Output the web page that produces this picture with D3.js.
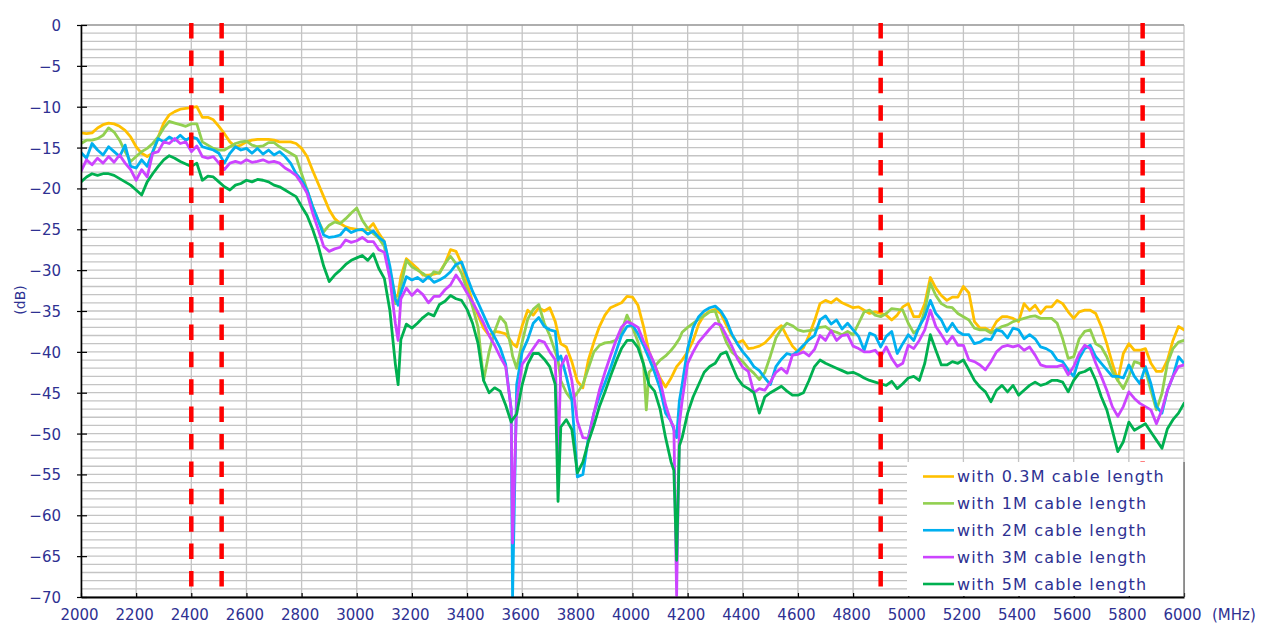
<!DOCTYPE html>
<html>
<head>
<meta charset="utf-8">
<script src="https://cdn.jsdelivr.net/npm/d3@7"></script>
<style>
  html, body { margin: 0; padding: 0; background: #ffffff; }
  svg { display: block; font-family: "DejaVu Sans", sans-serif; }
</style>
</head>
<body>
<svg id="chart" width="1270" height="640"></svg>
<script>
// Frequency points (MHz), one row per 200 MHz block; extra points sit on the narrow notches.
const freqs = [
  2000,2020,2040,2060,2080,2100,2120,2140,2160,2180,
  2200,2220,2240,2260,2280,2300,2320,2340,2360,2380,
  2400,2420,2440,2460,2480,2500,2520,2540,2560,2580,
  2600,2620,2640,2660,2680,2700,2720,2740,2760,2780,
  2800,2820,2840,2860,2880,2900,2920,2940,2960,2980,
  3000,3020,3040,3060,3080,3100,3120,3140,3150,3160,3180,
  3200,3220,3240,3260,3280,3300,3320,3340,3360,3380,
  3400,3420,3440,3460,3480,3500,3520,3540,3560,3565,3580,
  3600,3620,3640,3660,3680,3700,3720,3730,3740,3760,3780,
  3800,3820,3840,3860,3880,3900,3920,3940,3960,3980,
  4000,4020,4040,4050,4060,4080,4100,4120,4140,4150,4160,4170,4180,
  4200,4220,4240,4260,4280,4300,4320,4340,4360,4380,
  4400,4420,4440,4460,4480,4500,4520,4540,4560,4580,
  4600,4620,4640,4660,4680,4700,4720,4740,4760,4780,
  4800,4820,4840,4860,4880,4900,4920,4940,4960,4980,
  5000,5020,5040,5060,5080,5100,5120,5140,5160,5180,
  5200,5220,5240,5260,5280,5300,5320,5340,5360,5380,
  5400,5420,5440,5460,5480,5500,5520,5540,5560,5580,
  5600,5620,5640,5660,5680,5700,5720,5740,5760,5780,
  5800,5820,5840,5860,5880,5900,5920,5940,5960,5980,
  6000
];

// Measured response (dB) for each cable length
const cable03m = [
  -13.2,-13.3,-13.2,-12.6,-12.2,-12.0,-12.1,-12.4,-12.9,-13.7,
  -14.9,-15.7,-16.1,-15.7,-13.7,-12.0,-11.0,-10.6,-10.3,-10.2,
  -10.1,-10.0,-11.3,-11.3,-11.6,-12.4,-13.3,-14.3,-14.9,-14.7,
  -14.3,-14.1,-14.0,-14.0,-14.0,-14.1,-14.3,-14.3,-14.3,-14.5,
  -15.1,-16.1,-17.8,-19.4,-21.0,-22.6,-23.7,-24.3,-24.7,-24.9,
  -25.0,-25.1,-25.0,-24.3,-25.5,-26.5,-30.0,-33.3,-33.0,-30.8,-28.6,
  -29.2,-29.8,-30.6,-30.6,-30.5,-30.3,-29.2,-27.5,-27.7,-29.2,
  -31.6,-33.9,-35.5,-37.1,-38.0,-37.5,-37.6,-37.8,-38.7,-39.0,-39.4,
  -36.8,-34.9,-35.5,-34.6,-35.0,-34.6,-36.3,-37.8,-39.0,-39.4,-41.2,
  -43.6,-44.4,-41.0,-38.8,-36.9,-35.5,-34.6,-34.3,-34.0,-33.2,
  -33.3,-34.3,-36.9,-38.5,-40.0,-41.6,-43.2,-44.3,-43.2,-42.5,-41.8,-41.4,-41.0,
  -40.0,-38.6,-36.6,-35.5,-35.0,-34.8,-35.3,-36.7,-38.0,-38.9,
  -38.6,-39.6,-39.5,-39.3,-38.9,-38.2,-37.3,-36.8,-38.1,-39.3,
  -40.0,-39.5,-38.0,-36.2,-34.1,-33.7,-34.0,-33.5,-34.0,-34.3,
  -34.6,-34.5,-34.9,-35.3,-35.1,-35.3,-35.5,-36.1,-35.5,-34.5,
  -34.1,-35.7,-35.7,-34.1,-30.9,-32.2,-33.1,-33.7,-33.3,-33.3,
  -32.0,-32.8,-36.3,-37.1,-37.1,-37.5,-36.3,-35.7,-35.7,-35.9,
  -36.3,-34.1,-34.9,-34.3,-35.3,-34.5,-34.5,-33.7,-34.1,-35.1,
  -35.9,-35.1,-34.9,-34.9,-35.3,-36.9,-39.0,-41.4,-43.5,-40.2,
  -39.0,-39.8,-39.8,-39.6,-41.4,-42.4,-42.4,-41.0,-38.6,-36.9,
  -37.3
];

const cable1m = [
  -14.5,-14.1,-14.1,-13.9,-13.5,-12.6,-13.1,-14.1,-15.5,-16.7,
  -16.1,-15.5,-15.1,-14.5,-13.7,-12.6,-11.8,-12.0,-12.2,-12.4,
  -12.1,-12.1,-14.3,-14.7,-15.1,-15.3,-15.3,-14.9,-14.5,-14.3,
  -14.2,-14.7,-14.9,-14.8,-14.4,-14.4,-14.9,-15.3,-15.7,-16.1,
  -18.2,-20.2,-22.2,-23.9,-25.3,-24.5,-24.1,-24.3,-23.7,-23.0,
  -22.4,-23.9,-24.9,-25.5,-26.1,-27.1,-30.4,-34.1,-33.8,-32.0,-28.8,
  -29.6,-30.0,-30.4,-31.0,-30.2,-30.4,-29.2,-28.3,-29.2,-30.4,
  -32.4,-34.5,-37.0,-43.5,-40.0,-37.5,-35.7,-36.5,-39.5,-40.5,-42.0,
  -38.8,-36.0,-34.8,-34.2,-36.5,-38.0,-40.0,-41.0,-43.5,-45.0,-45.9,
  -45.0,-44.0,-42.0,-40.0,-39.2,-38.9,-38.8,-38.6,-37.5,-35.5,
  -37.0,-38.8,-41.5,-47.1,-42.5,-41.8,-41.0,-40.5,-39.8,-39.4,-38.9,-38.4,-37.6,
  -37.0,-36.5,-36.0,-35.6,-35.1,-35.0,-37.0,-38.8,-40.0,-40.6,
  -41.2,-42.0,-42.6,-43.4,-42.5,-40.5,-38.3,-37.2,-36.5,-36.8,
  -37.3,-37.5,-37.4,-37.3,-37.0,-36.9,-37.4,-37.6,-37.9,-37.5,
  -37.9,-36.5,-35.1,-34.9,-35.5,-35.7,-35.3,-34.7,-34.8,-34.9,
  -36.5,-37.7,-37.1,-34.9,-31.6,-33.1,-34.1,-34.5,-34.6,-35.3,
  -35.7,-36.1,-37.1,-37.3,-37.3,-37.7,-37.3,-36.9,-36.7,-36.3,
  -36.1,-35.9,-35.7,-35.6,-35.9,-35.9,-35.9,-36.5,-38.4,-40.8,
  -40.6,-38.4,-37.5,-37.3,-39.0,-39.4,-40.6,-42.4,-43.5,-44.5,
  -43.0,-41.2,-41.4,-42.2,-44.7,-47.1,-45.1,-41.4,-39.6,-38.8,
  -38.6
];

const cable2m = [
  -15.6,-16.3,-14.5,-15.3,-15.9,-14.9,-15.5,-16.1,-14.7,-17.3,
  -17.5,-16.5,-17.3,-15.5,-13.9,-14.3,-13.7,-14.1,-13.5,-14.1,
  -13.7,-13.9,-14.9,-15.1,-15.3,-15.7,-16.9,-15.7,-14.9,-15.3,
  -15.1,-15.7,-15.1,-15.8,-15.3,-15.9,-15.5,-16.1,-16.9,-18.2,
  -19.0,-20.2,-22.2,-23.9,-25.7,-26.0,-25.9,-25.7,-24.9,-25.4,
  -25.1,-25.0,-25.6,-25.2,-26.0,-26.5,-29.5,-33.5,-34.3,-32.8,-30.8,
  -31.2,-30.9,-31.4,-30.8,-31.5,-31.2,-30.8,-30.2,-29.3,-29.0,
  -30.8,-32.6,-34.0,-35.5,-37.0,-38.2,-39.5,-41.5,-47.0,-70.0,-44.0,
  -40.0,-38.5,-36.5,-35.8,-36.9,-37.3,-37.5,-41.0,-40.5,-43.0,-45.8,
  -55.3,-55.0,-50.5,-47.5,-45.5,-43.8,-42.0,-40.0,-38.0,-36.9,
  -36.7,-37.8,-39.2,-40.0,-40.8,-42.5,-44.5,-47.5,-48.5,-49.5,-50.5,-46.0,-44.0,
  -39.6,-37.0,-35.7,-35.0,-34.6,-34.4,-35.0,-36.1,-37.8,-39.0,
  -40.0,-40.8,-41.8,-42.3,-43.2,-44.0,-41.8,-40.9,-40.2,-40.4,
  -39.9,-39.2,-38.5,-38.0,-36.1,-35.6,-36.6,-36.1,-37.2,-36.5,
  -37.3,-38.1,-39.8,-37.7,-38.0,-39.4,-38.1,-37.5,-40.2,-39.0,
  -37.9,-38.6,-36.9,-35.7,-33.7,-35.3,-36.1,-37.5,-36.5,-37.5,
  -37.9,-37.9,-39.0,-38.8,-38.4,-38.5,-37.3,-37.5,-38.3,-37.1,
  -37.3,-38.4,-37.9,-38.4,-39.4,-39.6,-40.0,-41.0,-41.2,-42.2,
  -43.0,-40.8,-39.6,-39.2,-40.6,-41.4,-42.2,-43.0,-43.0,-43.2,
  -41.6,-43.0,-43.9,-41.8,-43.9,-46.7,-47.5,-44.7,-43.0,-40.6,
  -41.4
];

const cable3m = [
  -17.9,-16.5,-17.1,-16.3,-16.9,-16.1,-16.8,-15.9,-16.9,-17.7,
  -19.0,-17.7,-18.6,-15.7,-15.5,-14.3,-14.5,-13.9,-14.5,-14.3,
  -15.5,-14.8,-16.1,-16.3,-16.1,-16.9,-17.7,-16.9,-16.7,-16.9,
  -16.5,-16.8,-16.7,-16.5,-16.8,-16.7,-16.9,-17.5,-17.9,-18.4,
  -19.4,-20.6,-23.0,-25.0,-27.1,-27.7,-27.4,-27.2,-26.3,-26.6,
  -26.4,-26.0,-26.5,-26.5,-27.5,-27.8,-31.0,-36.5,-38.6,-33.5,-32.2,
  -33.1,-32.4,-33.0,-34.0,-33.2,-33.2,-32.4,-31.8,-30.6,-31.6,
  -32.8,-33.9,-35.2,-36.5,-38.0,-39.2,-40.6,-41.8,-47.0,-63.4,-46.0,
  -41.5,-40.6,-39.6,-38.6,-38.8,-40.0,-41.0,-53.4,-41.8,-40.5,-43.5,
  -48.5,-50.5,-50.6,-47.5,-44.7,-42.5,-40.5,-38.6,-37.0,-36.3,
  -36.6,-37.0,-38.7,-39.4,-40.0,-41.5,-43.5,-46.5,-48.6,-49.2,-69.8,-48.8,-46.0,
  -41.4,-40.0,-38.8,-38.0,-37.2,-36.5,-36.7,-38.0,-39.3,-40.8,
  -41.9,-42.4,-45.0,-44.5,-44.7,-43.7,-42.5,-42.0,-42.6,-40.4,
  -40.3,-40.0,-40.5,-39.7,-38.0,-38.6,-37.4,-38.6,-38.0,-37.9,
  -39.3,-39.6,-40.0,-40.0,-39.8,-40.6,-39.4,-40.8,-41.8,-41.4,
  -39.2,-39.6,-38.6,-37.3,-34.9,-36.9,-37.9,-39.0,-38.1,-39.2,
  -39.2,-41.0,-41.2,-41.6,-42.2,-41.2,-40.0,-39.4,-39.2,-39.4,
  -39.2,-39.8,-39.4,-40.4,-41.6,-41.8,-41.8,-41.8,-41.6,-42.8,
  -41.8,-40.2,-39.2,-39.6,-41.4,-43.0,-44.7,-46.7,-47.9,-46.7,
  -44.9,-45.7,-46.3,-46.7,-47.1,-48.8,-47.1,-44.7,-43.0,-41.8,
  -41.6
];

const cable5m = [
  -19.2,-18.6,-18.2,-18.4,-18.2,-18.2,-18.4,-18.8,-19.2,-19.6,
  -20.2,-20.8,-19.2,-18.2,-17.3,-16.5,-16.0,-16.3,-16.7,-17.0,
  -17.3,-16.9,-19.0,-18.5,-18.6,-19.2,-19.8,-20.2,-19.6,-19.4,
  -19.0,-19.2,-18.9,-19.0,-19.2,-19.6,-19.8,-20.2,-20.6,-21.0,
  -22.2,-23.3,-25.0,-27.0,-29.5,-31.4,-30.6,-30.0,-29.3,-28.8,
  -28.5,-28.2,-28.8,-28.0,-29.8,-31.0,-34.9,-41.5,-44.0,-38.5,-36.6,
  -37.1,-36.5,-35.8,-35.3,-35.6,-34.2,-33.8,-33.1,-33.5,-33.7,
  -34.8,-36.5,-39.0,-43.5,-45.0,-44.4,-44.8,-46.5,-48.6,-48.3,-47.6,
  -44.0,-41.5,-40.2,-40.2,-40.9,-41.8,-44.0,-58.3,-49.2,-48.3,-49.5,
  -54.8,-53.5,-51.0,-49.0,-46.7,-44.9,-43.0,-41.2,-39.6,-38.6,
  -38.6,-39.5,-41.5,-42.8,-44.0,-44.8,-47.0,-50.5,-53.5,-54.5,-65.5,-51.5,-50.5,
  -47.5,-45.5,-44.0,-42.5,-41.8,-41.4,-40.3,-40.0,-41.6,-43.2,
  -44.1,-44.5,-45.0,-47.5,-45.5,-45.0,-44.6,-44.2,-44.8,-45.3,
  -45.3,-45.0,-43.5,-41.8,-41.0,-41.4,-41.7,-42.0,-42.3,-42.6,
  -42.5,-42.8,-43.2,-43.5,-43.7,-43.9,-44.1,-43.6,-44.5,-43.9,
  -43.2,-43.0,-43.5,-41.4,-37.9,-39.8,-41.6,-41.6,-41.2,-41.4,
  -41.0,-42.2,-43.5,-44.3,-44.9,-46.1,-44.7,-44.1,-44.9,-44.1,
  -45.3,-44.7,-44.1,-43.7,-44.1,-43.9,-43.5,-43.5,-43.7,-44.9,
  -43.5,-42.6,-42.4,-42.0,-43.5,-45.5,-47.1,-49.6,-52.2,-51.0,
  -48.6,-49.6,-49.2,-48.8,-49.8,-50.8,-51.8,-49.4,-48.3,-47.5,
  -46.3
];

const seriesNames = [
  "with 0.3M cable length",
  "with 1M cable length",
  "with 2M cable length",
  "with 3M cable length",
  "with 5M cable length"
];

const xTicks = [2000,2200,2400,2600,2800,3000,3200,3400,3600,3800,4000,
                4200,4400,4600,4800,5000,5200,5400,5600,5800,6000];
const yTicks = [0,-5,-10,-15,-20,-25,-30,-35,-40,-45,-50,-55,-60,-65,-70];

// Band edges marked with red dashed lines (MHz)
const bandEdges = [2400, 2510, 4900, 5850];

(function draw() {
  const series = [cable03m, cable1m, cable2m, cable3m, cable5m];
  const colors = ["#FFC000", "#92D050", "#00B0F0", "#CC44FF", "#00B050"];
  const textColor = "#2E3192";

  series.forEach((s, i) => {
    if (s.length !== freqs.length) console.error("length mismatch", seriesNames[i], s.length, freqs.length);
  });

  const svg = d3.select("#chart");
  const pL = 81, pR = 1184, pT = 25, pB = 597;

  const x = d3.scaleLinear().domain([2000, 6000]).range([pL, pR]);
  const y = d3.scaleLinear().domain([-70, 0]).range([pB, pT]);

  svg.append("rect").attr("width", 1270).attr("height", 640).attr("fill", "#ffffff");

  svg.append("defs").append("clipPath").attr("id", "plotClip")
    .append("rect").attr("x", pL).attr("y", pT - 2)
    .attr("width", pR - pL).attr("height", pB - pT + 2);

  // 1 dB horizontal grid
  const grid = svg.append("g").attr("class", "grid");
  grid.selectAll("line.h").data(d3.range(-70, 1, 1)).join("line")
    .attr("class", "h")
    .attr("x1", pL).attr("x2", pR)
    .attr("y1", d => y(d)).attr("y2", d => y(d))
    .attr("stroke", "#C4C4C4").attr("stroke-width", 1.3);

  // vertical grid at the frequency ticks
  grid.selectAll("line.v").data(xTicks).join("line")
    .attr("class", "v")
    .attr("x1", d => x(d)).attr("x2", d => x(d))
    .attr("y1", pT).attr("y2", pB)
    .attr("stroke", "#C4C4C4").attr("stroke-width", 1.3);

  // top edge of the plot
  svg.append("line").attr("x1", pL).attr("x2", pR).attr("y1", pT).attr("y2", pT)
    .attr("stroke", "#8A8A8A").attr("stroke-width", 1.2);

  // curves
  const line = d3.line()
    .x((d, i) => x(freqs[i]))
    .y(d => y(d));

  const curves = svg.append("g").attr("clip-path", "url(#plotClip)");
  series.forEach((s, i) => {
    curves.append("path")
      .datum(s)
      .attr("fill", "none")
      .attr("stroke", colors[i])
      .attr("stroke-width", 2.8)
      .attr("stroke-linejoin", "round")
      .attr("stroke-linecap", "round")
      .attr("d", line);
  });

  // band edge markers
  svg.append("g").selectAll("line").data(bandEdges).join("line")
    .attr("x1", d => x(d)).attr("x2", d => x(d))
    .attr("y1", 23).attr("y2", pB)
    .attr("stroke", "#FF0000")
    .attr("stroke-width", 4.5)
    .attr("stroke-dasharray", "15.5,11.9");

  // axes
  const yAxis = svg.append("g")
    .attr("transform", `translate(${pL},0)`)
    .call(d3.axisLeft(y).tickValues(yTicks).tickFormat(d3.format("d")).tickSize(4).tickSizeOuter(0));
  yAxis.select(".domain").attr("stroke", "#000").attr("stroke-width", 1.6);
  yAxis.selectAll(".tick line").attr("x1", 6).attr("stroke", "#000").attr("stroke-width", 1.2);
  yAxis.selectAll(".tick text")
    .attr("x", -20).attr("dy", "0.37em")
    .attr("fill", textColor).style("font-size", "15px")
    .style("font-family", '"DejaVu Sans", sans-serif');

  const xAxis = svg.append("g")
    .attr("transform", `translate(0,${pB})`)
    .call(d3.axisBottom(x).tickValues(xTicks).tickFormat(d3.format("d")).tickSize(-4).tickSizeOuter(0));
  xAxis.select(".domain").attr("stroke", "#000").attr("stroke-width", 1.8);
  xAxis.selectAll(".tick line").attr("stroke", "#000").attr("stroke-width", 1.2);
  xAxis.selectAll(".tick text")
    .attr("y", 23).attr("dy", 0).attr("x", -2)
    .attr("fill", textColor).style("font-size", "15px")
    .style("font-family", '"DejaVu Sans", sans-serif');

  // axis units
  svg.append("text")
    .attr("x", 1212).attr("y", 620)
    .attr("fill", textColor).style("font-size", "15px")
    .text("(MHz)");

  svg.append("text")
    .attr("transform", "translate(20,300) rotate(-90)")
    .attr("text-anchor", "middle").attr("dy", "0.35em")
    .attr("fill", textColor).style("font-size", "14px")
    .text("(dB)");

  // legend
  const legend = svg.append("g");
  legend.append("rect")
    .attr("x", 907).attr("y", 462).attr("width", pR - 907).attr("height", pB - 462 - 1)
    .attr("fill", "#ffffff");
  legend.append("line")
    .attr("x1", pR).attr("x2", pR).attr("y1", 462).attr("y2", pB)
    .attr("stroke", "#555").attr("stroke-width", 1.2);

  const rowY = d3.scaleLinear().domain([0, 4]).range([476.5, 584]);
  seriesNames.forEach((name, i) => {
    const cy = rowY(i);
    legend.append("line")
      .attr("x1", 923).attr("x2", 954).attr("y1", cy).attr("y2", cy)
      .attr("stroke", colors[i]).attr("stroke-width", 2.6);
    legend.append("text")
      .attr("x", 957).attr("y", cy).attr("dy", "0.35em")
      .attr("fill", textColor).style("font-size", "16px")
      .style("letter-spacing", "1.15px")
      .text(name);
  });
})();
</script>
</body>
</html>
